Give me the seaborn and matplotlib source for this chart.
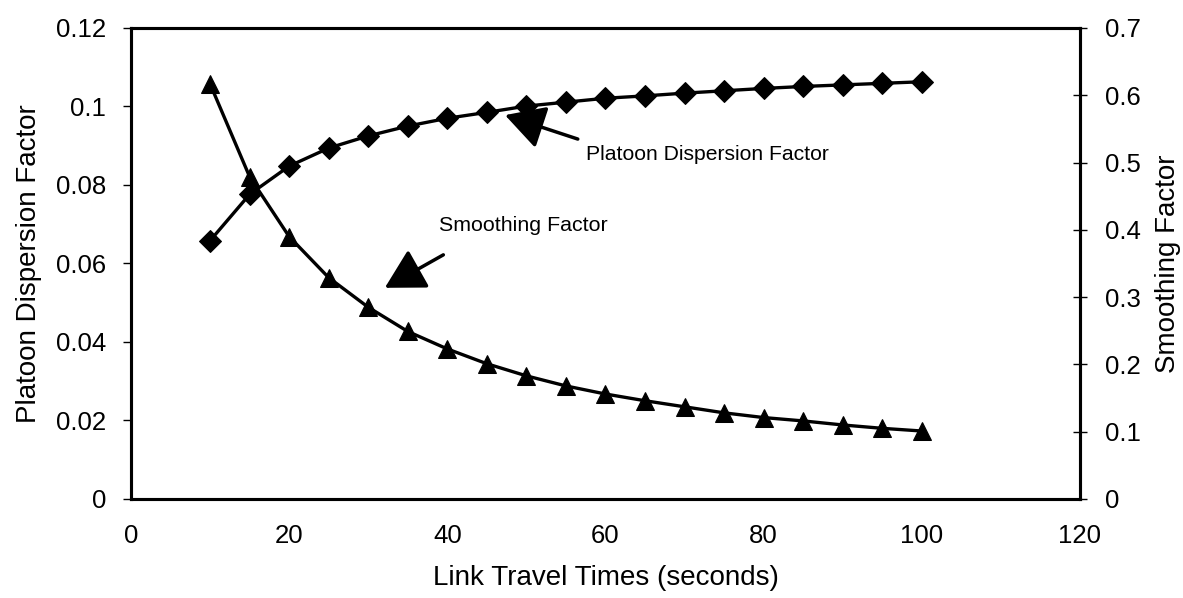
import matplotlib
matplotlib.use("Agg")
import matplotlib.pyplot as plt
import seaborn as sns
import pandas as pd

# ---- data ----
travel_times = [10, 15, 20, 25, 30, 35, 40, 45, 50, 55, 60, 65, 70, 75, 80, 85, 90, 95, 100]
platoon_dispersion = [0.0658, 0.0776, 0.0848, 0.0894, 0.0925, 0.0950, 0.0970, 0.0985, 0.1001,
                      0.1011, 0.1021, 0.1027, 0.1034, 0.1040, 0.1046, 0.1051, 0.1055, 0.1059, 0.1063]
smoothing = [0.617, 0.479, 0.390, 0.329, 0.285, 0.249, 0.223, 0.201, 0.183, 0.168, 0.156,
             0.146, 0.137, 0.128, 0.121, 0.116, 0.110, 0.105, 0.101]
x_ticks = [0, 20, 40, 60, 80, 100, 120]
left_ticks = [0, 0.02, 0.04, 0.06, 0.08, 0.10, 0.12]
left_tick_labels = ["0", "0.02", "0.04", "0.06", "0.08", "0.1", "0.12"]
right_ticks = [0, 0.1, 0.2, 0.3, 0.4, 0.5, 0.6, 0.7]
right_tick_labels = ["0", "0.1", "0.2", "0.3", "0.4", "0.5", "0.6", "0.7"]

df = pd.DataFrame({"t": travel_times, "pdf": platoon_dispersion, "sf": smoothing})

sns.set_style("white")
plt.rcParams["font.family"] = ["Liberation Sans", "DejaVu Sans"]
plt.rcParams["text.color"] = "black"
plt.rcParams["axes.labelcolor"] = "black"
plt.rcParams["xtick.color"] = "black"
plt.rcParams["ytick.color"] = "black"

fig = plt.figure(figsize=(11.83, 5.98), dpi=100)
ax = fig.add_axes([0.1107, 0.1656, 0.8022, 0.7876])
ax2 = ax.twinx()

sns.lineplot(data=df, x="t", y="pdf", ax=ax, color="black", marker="D", markersize=11,
             markeredgecolor="black", linewidth=2.4)
sns.lineplot(data=df, x="t", y="sf", ax=ax2, color="black", marker="^", markersize=13.5,
             markeredgecolor="black", linewidth=2.4)

ax.set_xlim(0, 120)
ax.set_ylim(0, 0.12)
ax2.set_ylim(0, 0.7)
ax.set_xticks(x_ticks)
ax.set_xticklabels([str(v) for v in x_ticks])
ax.set_yticks(left_ticks)
ax.set_yticklabels(left_tick_labels)
ax2.set_yticks(right_ticks)
ax2.set_yticklabels(right_tick_labels)

for a in (ax, ax2):
    for s in a.spines.values():
        s.set_linewidth(2.2)
        s.set_color("black")

ax.tick_params(axis="x", direction="inout", length=10, width=1, labelsize=18.5, pad=13, colors="black")
ax.tick_params(axis="y", direction="out", length=6, width=1, labelsize=18.5, pad=12, colors="black")
ax2.tick_params(axis="y", direction="inout", length=10, width=1, labelsize=18.5, pad=13, colors="black")

ax.set_xlabel("Link Travel Times (seconds)", fontsize=20, labelpad=12, color="black")
ax.set_ylabel("Platoon Dispersion Factor", fontsize=20, labelpad=10, color="black")
ax2.set_ylabel("Smoothing Factor", fontsize=20, labelpad=10, color="black")

arrow = dict(arrowstyle="-|>,head_length=0.9,head_width=0.5", color="black", lw=2.5,
             mutation_scale=27, shrinkA=0, shrinkB=0)
ax.annotate("", xy=(47.3, 0.0978), xytext=(56.5, 0.0917), arrowprops=arrow)
ax.text(57.6, 0.0878, "Platoon Dispersion Factor", fontsize=15.2, ha="left", va="center", color="black")
ax.annotate("", xy=(32.1, 0.0538), xytext=(39.5, 0.0622), arrowprops=arrow)
ax.text(38.9, 0.0698, "Smoothing Factor", fontsize=15.4, ha="left", va="center", color="black")

fig.savefig("out.png", dpi=100)
